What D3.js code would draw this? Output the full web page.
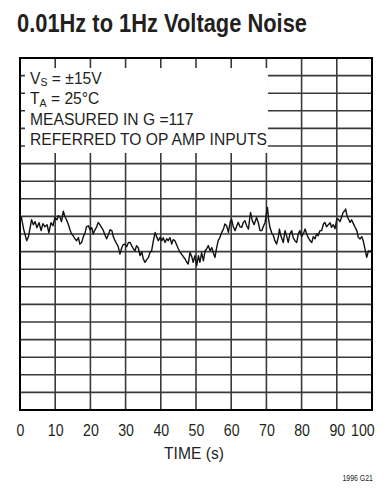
<!DOCTYPE html>
<html lang="en">
<head>
<meta charset="UTF-8">
<title>0.01Hz to 1Hz Voltage Noise</title>
<script src="https://d3js.org/d3.v7.min.js"></script>
<style>
  body { margin: 0; background: #fff; }
  svg { display: block; font-family: "Liberation Sans", Arial, sans-serif; }
</style>
</head>
<body>
<svg id="chart" width="388" height="491"></svg>
<script>
// time axis ticks (s)
const timeTicks = [0, 10, 20, 30, 40, 50, 60, 70, 80, 90, 100];
// vertical grid: 20 unlabeled divisions
const divTicks = d3.range(-10, 11);

const legendLines = [
  ["V", "S", " = \u00b115V"],
  ["T", "A", " = 25\u00b0C"],
  ["MEASURED IN G =117"],
  ["REFERRED TO OP AMP INPUTS"]
];

// noise trace: time (s) and value (divisions)
const noiseTime = [0, 0.4, 1.0, 1.9, 2.4, 3.3, 3.8, 4.3, 4.8, 5.4, 6.0, 6.5, 7.1, 7.7, 8.2, 8.8, 9.4, 9.9,
  10.5, 10.9, 11.4, 11.8, 12.3, 12.8, 13.2, 13.7, 14.2, 14.6, 15.1, 15.6, 16.1, 16.6, 17.0, 17.5, 18.0, 18.5, 18.9, 19.4, 19.9,
  20.4, 20.8, 21.3, 21.8, 22.2, 22.7, 23.2, 23.7, 24.1, 24.6, 25.1, 25.6, 26.1, 26.5, 27.0, 27.5, 27.9, 28.4, 28.9, 29.3, 29.8,
  30.3, 30.8, 31.3, 31.7, 32.2, 32.7, 33.1, 33.6, 34.1, 34.6, 35.0, 35.5, 36.0, 36.5, 36.9, 37.4, 37.9, 38.4, 38.8, 39.3, 39.8,
  40.3, 40.7, 41.2, 41.7, 42.1, 42.6, 43.1, 43.5, 44.0, 44.5, 45.0, 45.5, 45.9, 46.4, 46.9, 47.4, 47.8, 48.3, 48.8, 49.2, 49.7,
  50.2, 50.7, 51.1, 51.6, 52.1, 52.6, 53.0, 53.5, 54.0, 54.5, 54.9, 55.4, 55.8, 56.3, 56.8, 57.3, 57.8, 58.2, 58.7, 59.2, 59.7,
  60.1, 60.6, 61.1, 61.6, 62.0, 62.5, 63.0, 63.4, 63.9, 64.4, 64.9, 65.3, 65.5, 66.0, 66.5, 67.2, 67.7, 68.2, 68.7, 69.1, 69.6,
  70.3, 70.6, 71.0, 71.5, 72.0, 72.4, 72.9, 73.4, 73.7, 74.1, 74.8, 75.3, 75.8, 76.2, 76.7, 77.2, 77.6, 78.1, 78.6, 79.1, 79.5,
  80.0, 80.5, 81.0, 81.4, 81.9, 82.4, 82.9, 83.3, 83.8, 84.3, 84.7, 85.2, 85.7, 86.2, 86.6, 87.1, 87.6, 88.1, 88.5, 89.0, 89.5,
  90.0, 90.4, 90.9, 91.4, 91.8, 92.3, 92.5, 92.9, 93.3, 93.8, 94.2, 94.7, 95.2, 95.7, 96.1, 96.6, 97.1, 97.5, 98.0, 98.5, 99.0, 99.4, 100];
const noiseValue = [0.76, 0.94, 0.30, -0.38, -0.15, 0.81, 0.53, 0.70, 0.36, 0.64, 0.19, 0.59, 0.41, 0.53, 0.07, 0.64, 0.47, 0.94,
  0.81, 1.04, 0.93, 0.70, 1.30, 0.98, 0.81, 0.57, 0.24, 0.02, -0.10, -0.27, -0.38, -0.21, -0.57, -0.48, -0.15, 0.09, 0.41, 0.47, 0.24,
  0.36, 0.00, 0.24, 0.41, 0.66, 0.53, 0.36, 0.19, -0.04, -0.27, -0.04, 0.24, 0.19, -0.15, -0.38, -0.57, -0.72, -1.14, -0.78, -0.61, -0.57,
  -0.72, -0.48, -0.48, -0.66, -0.84, -0.95, -0.66, -0.78, -1.23, -1.01, -1.40, -1.61, -1.46, -1.33, -1.06, -0.95, -0.38, 0.09, -0.15, -0.38, -0.19,
  -0.38, -0.21, -0.48, -0.27, -0.38, -0.21, -0.57, -0.32, -0.38, -0.61, -0.85, -1.05, -1.14, -1.29, -1.42, -1.61, -1.70, -1.05, -1.29, -1.61, -1.23,
  -1.80, -1.23, -1.61, -1.06, -1.52, -0.95, -0.85, -0.66, -0.95, -0.78, -1.06, -1.33, -0.84, -0.38, -0.19, 0.09, 0.28, 0.57, 0.47, 0.09, 0.66,
  0.85, 0.41, 0.19, 0.47, 0.66, 0.41, 0.38, 0.64, 0.76, 0.47, 0.28, 0.94, 1.23, 0.76, 0.53, 0.94, 0.64, 0.19, 0.19, 0.41, 0.64,
  1.51, 0.87, 0.38, 0.07, -0.10, -0.38, -0.57, -0.15, 0.28, -0.10, -0.48, 0.19, -0.15, -0.48, 0.02, 0.19, -0.21, -0.38, -0.48, 0.02, 0.19,
  -0.15, 0.02, 0.28, 0.02, -0.21, -0.38, -0.48, -0.15, -0.27, 0.02, -0.10, 0.19, 0.19, 0.57, 0.66, 0.41, 0.53, 0.64, 0.38, 0.53, 0.30,
  0.85, 0.85, 0.70, 0.98, 1.23, 1.32, 1.42, 1.04, 0.85, 0.66, 0.81, 0.59, 0.38, 0.19, -0.19, -0.28, -0.15, -0.38, -0.85, -1.33, -0.95, -1.01, -0.89];

const noise = noiseTime.map((t, i) => ({ t: t, v: noiseValue[i] }));

const svg = d3.select("#chart");
const plotLeft = 20, plotRight = 372, plotTop = 58, plotBottom = 410;
const ink = "#231f20";

const x = d3.scaleLinear().domain([0, 100]).range([plotLeft, plotRight]);
const y = d3.scaleLinear().domain([-10, 10]).range([plotBottom, plotTop]);

// narrow text: the datasheet uses a condensed face, so squeeze horizontally
function narrowText(px, py, size, sx) {
  return svg.append("text")
    .attr("transform", `translate(${px},${py}) scale(${sx},1)`)
    .attr("font-size", size)
    .attr("fill", ink);
}

// title
svg.append("text")
  .attr("x", 17).attr("y", 32)
  .attr("font-size", 26).attr("font-weight", "bold")
  .attr("textLength", 290).attr("lengthAdjust", "spacingAndGlyphs")
  .attr("fill", ink)
  .text("0.01Hz to 1Hz Voltage Noise");

// grid
const grid = svg.append("g").attr("stroke", "#3a3a3a").attr("stroke-width", 1.6);
grid.selectAll("line.v").data(timeTicks.slice(1, -1)).enter().append("line")
  .attr("x1", d => x(d)).attr("x2", d => x(d))
  .attr("y1", plotTop).attr("y2", plotBottom);
grid.selectAll("line.h").data(divTicks.slice(1, -1)).enter().append("line")
  .attr("x1", plotLeft).attr("x2", plotRight)
  .attr("y1", d => y(d)).attr("y2", d => y(d));

// legend box hides grid, leaving small stubs at the edges
svg.append("rect")
  .attr("x", plotLeft + 5).attr("y", plotTop + 10)
  .attr("width", x(70) + 1.5 - plotLeft - 5).attr("height", 85)
  .attr("fill", "#fff");

const legendTexts = legendLines.map((ln, i) => {
  const t = narrowText(30, 83.5 + i * 20.5, 17, 1);
  t.append("tspan").text(ln[0]);
  if (ln.length > 1) {
    t.append("tspan").attr("dy", 2.5).attr("font-size", 11.5).text(ln[1]);
    t.append("tspan").attr("dy", -2.5).text(ln[2]);
  }
  return t;
});
// fit the longest line to its width on the sheet and squeeze the others alike
const legendScale = 237 / legendTexts[3].node().getComputedTextLength();
legendTexts.forEach((t, i) => t.attr("transform", `translate(30,${83.5 + i * 20.5}) scale(${legendScale},1)`));

// noise trace
svg.append("path")
  .datum(noise)
  .attr("fill", "none")
  .attr("stroke", "#111")
  .attr("stroke-width", 1.4)
  .attr("stroke-linejoin", "round")
  .attr("d", d3.line().x(d => x(d.t)).y(d => y(d.v)));

// frame
svg.append("rect")
  .attr("x", plotLeft).attr("y", plotTop)
  .attr("width", plotRight - plotLeft).attr("height", plotBottom - plotTop)
  .attr("fill", "none").attr("stroke", "#000").attr("stroke-width", 2);

// x axis labels
const xAxis = svg.append("g")
  .attr("transform", `translate(0,${plotBottom})`)
  .call(d3.axisBottom(x).tickValues(timeTicks).tickSize(0).tickPadding(0).tickFormat(d3.format("d")));
xAxis.attr("font-family", null).attr("font-size", null);
xAxis.select(".domain").remove();
xAxis.selectAll("text")
  .attr("y", 26).attr("dy", 0)
  .attr("font-size", 16.5)
  .attr("fill", ink)
  .attr("transform", "scale(0.86,1)")
  .filter(d => d === 100)
  .attr("text-anchor", "end")
  .attr("x", 2.5);

narrowText((plotLeft + plotRight) / 2 - 2, 459, 17, 0.92)
  .attr("text-anchor", "middle")
  .text("TIME (s)");

narrowText(373, 481, 8.5, 0.82)
  .attr("text-anchor", "end")
  .text("1996 G21");
</script>
</body>
</html>
